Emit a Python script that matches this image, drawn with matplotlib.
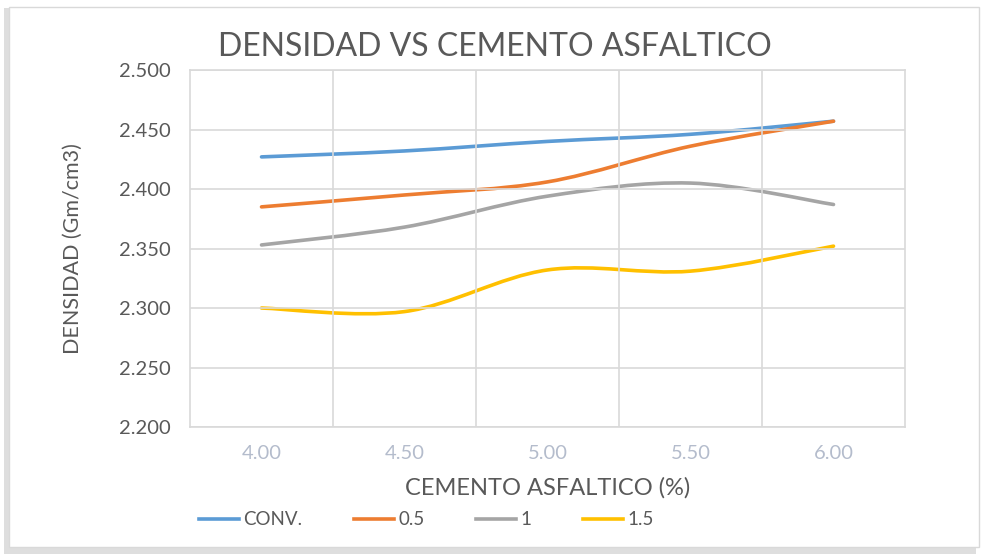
import matplotlib.pyplot as plt
from matplotlib.path import Path
from matplotlib.patches import PathPatch, Rectangle
from matplotlib.lines import Line2D

plt.rcParams['font.family'] = ['Lato', 'DejaVu Sans']

# data
cement = ['4.00', '4.50', '5.00', '5.50', '6.00']
conv = [2.427, 2.432, 2.440, 2.446, 2.457]
s05 = [2.385, 2.395, 2.406, 2.436, 2.457]
s1 = [2.353, 2.368, 2.394, 2.405, 2.387]
s15 = [2.300, 2.297, 2.332, 2.331, 2.352]
series_names = ['CONV.', '0.5', '1', '1.5']
colors = ['#5B9BD5', '#ED7D31', '#A5A5A5', '#FFC000']


def smooth_path(xs, ys, t=1 / 6):
    # Excel-style smoothed line: cubic Bezier segments through the data points
    verts = [(xs[0], ys[0])]
    codes = [Path.MOVETO]
    n = len(xs)
    for i in range(n - 1):
        x0, y0 = (xs[i - 1], ys[i - 1]) if i > 0 else (xs[i], ys[i])
        x1, y1 = xs[i], ys[i]
        x2, y2 = xs[i + 1], ys[i + 1]
        x3, y3 = (xs[i + 2], ys[i + 2]) if i + 2 < n else (x2, y2)
        c1 = (x1 + (x2 - x0) * t, y1 + (y2 - y0) * t)
        c2 = (x2 - (x3 - x1) * t, y2 - (y3 - y1) * t)
        verts += [c1, c2, (x2, y2)]
        codes += [Path.CURVE4] * 3
    return Path(verts, codes)


fig = plt.figure(figsize=(9.82, 5.54), dpi=100)

# outer chart frame with soft shadow
fig.patches.append(Rectangle((0.004, 0.0), 0.99, 0.985, transform=fig.transFigure,
                             facecolor='#c8c8c8', edgecolor='none', zorder=-3, alpha=0.6))
fig.patches.append(Rectangle((0.009, 0.012), 0.988, 0.975, transform=fig.transFigure,
                             facecolor='white', edgecolor='#d9d9d9', lw=1, zorder=-2))

ax = fig.add_axes([0.1935, 0.2292, 0.7281, 0.6444])
x = list(range(len(cement)))
for ys, name, c in zip([conv, s05, s1, s15], series_names, colors):
    ax.add_patch(PathPatch(smooth_path(x, ys), facecolor='none', edgecolor=c,
                           lw=2.6, capstyle='round'))

ax.set_xlim(-0.5, len(cement) - 0.5)
ax.set_ylim(2.200, 2.500)
ax.set_xticks(x)
ax.set_xticklabels(cement)
ax.set_xticks([i + 0.5 for i in x[:-1]], minor=True)
ax.set_yticks([2.200, 2.250, 2.300, 2.350, 2.400, 2.450, 2.500])
ax.set_yticklabels(['%.3f' % v for v in ax.get_yticks()])
ax.grid(True, which='minor', axis='x', color='#d9d9d9', lw=1.2)
ax.grid(True, which='major', axis='y', color='#d9d9d9', lw=1.2)
ax.tick_params(which='both', length=0)
ax.tick_params(axis='y', labelsize=14.5, colors='#595959', pad=14)
ax.tick_params(axis='x', labelsize=14.5, colors='#b4bccc', pad=13)
for sp in ax.spines.values():
    sp.set_color('#d9d9d9')
    sp.set_linewidth(1.2)

ax.set_xlabel('CEMENTO ASFALTICO (%)', fontsize=17, color='#595959', labelpad=11)
ax.set_ylabel('DENSIDAD (Gm/cm3)', fontsize=15.5, color='#595959', labelpad=26)
fig.text(0.504, 0.915, 'DENSIDAD VS CEMENTO ASFALTICO', fontsize=23, color='#595959',
         ha='center', va='center')

handles = [Line2D([], [], color=c, lw=2.6) for c in colors]
fig.legend(handles, series_names, loc='center left', bbox_to_anchor=(0.185, 0.062),
           ncol=4, frameon=False, fontsize=13.5, handlelength=2.15, handletextpad=0.25,
           columnspacing=2.72, labelcolor='#595959')

fig.savefig('out.png', dpi=100)
